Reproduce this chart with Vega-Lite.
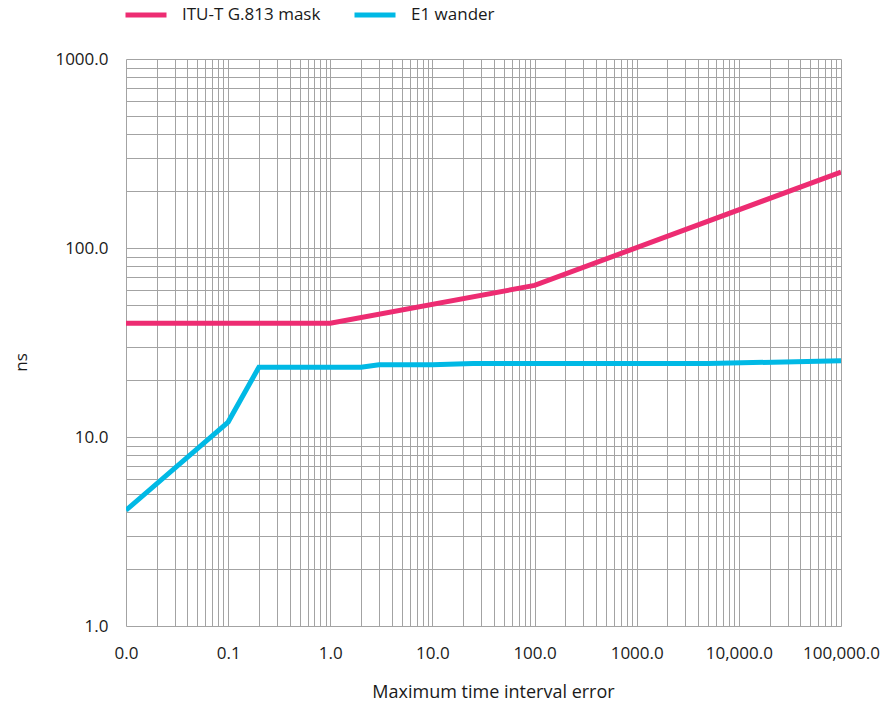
{
  "$schema": "https://vega.github.io/schema/vega-lite/v6.json",
  "width": 715,
  "height": 567,
  "autosize": {"type": "none"},
  "padding": {"left": 126, "top": 59, "right": 50, "bottom": 80},
  "config": {
    "font": "Open Sans",
    "view": {"stroke": null},
    "axis": {"labelColor": "#1a1a1a", "titleColor": "#1a1a1a"}
  },
  "data": {
    "values": [
      {"series": "ITU-T G.813 mask", "tau": 0.01, "ns": 40},
      {"series": "ITU-T G.813 mask", "tau": 1, "ns": 40},
      {"series": "ITU-T G.813 mask", "tau": 100, "ns": 63.4},
      {"series": "ITU-T G.813 mask", "tau": 100000, "ns": 252.5},
      {"series": "E1 wander", "tau": 0.01, "ns": 4.1},
      {"series": "E1 wander", "tau": 0.1, "ns": 12.0},
      {"series": "E1 wander", "tau": 0.2, "ns": 23.4},
      {"series": "E1 wander", "tau": 2, "ns": 23.4},
      {"series": "E1 wander", "tau": 3, "ns": 24.1},
      {"series": "E1 wander", "tau": 10, "ns": 24.1},
      {"series": "E1 wander", "tau": 25, "ns": 24.5},
      {"series": "E1 wander", "tau": 5000, "ns": 24.5},
      {"series": "E1 wander", "tau": 100000, "ns": 25.3}
    ]
  },
  "mark": {"type": "line", "strokeWidth": 5, "clip": true},
  "encoding": {
    "x": {
      "field": "tau",
      "type": "quantitative",
      "scale": {"type": "log", "domain": [0.01, 100000], "nice": false},
      "axis": {
        "title": "Maximum time interval error",
        "titleFontSize": 18,
        "titleFontWeight": "normal",
        "titleX": 367,
        "titleY": 66,
        "titleBaseline": "middle",
        "values": [0.01, 0.02, 0.03, 0.04, 0.05, 0.06, 0.07, 0.08, 0.09,
                   0.1, 0.2, 0.3, 0.4, 0.5, 0.6, 0.7, 0.8, 0.9,
                   1, 2, 3, 4, 5, 6, 7, 8, 9,
                   10, 20, 30, 40, 50, 60, 70, 80, 90,
                   100, 200, 300, 400, 500, 600, 700, 800, 900,
                   1000, 2000, 3000, 4000, 5000, 6000, 7000, 8000, 9000,
                   10000, 20000, 30000, 40000, 50000, 60000, 70000, 80000, 90000,
                   100000],
        "labelExpr": "datum.value == 0.01 ? '0.0' : datum.value == 0.1 ? '0.1' : datum.value == 1 ? '1.0' : datum.value == 10 ? '10.0' : datum.value == 100 ? '100.0' : datum.value == 1000 ? '1000.0' : datum.value == 10000 ? '10,000.0' : datum.value == 100000 ? '100,000.0' : ''",
        "labelFontSize": 17,
        "labelPadding": 19,
        "labelOverlap": false,
        "labelFlush": false,
        "ticks": false,
        "domain": false,
        "grid": true,
        "gridColor": "#a3a3a3",
        "gridWidth": 1
      }
    },
    "y": {
      "field": "ns",
      "type": "quantitative",
      "scale": {"type": "log", "domain": [1, 1000], "nice": false},
      "axis": {
        "title": "ns",
        "titleFontSize": 17,
        "titleFontWeight": "normal",
        "titleX": -105,
        "titleY": 303,
        "titleAlign": "center",
        "titleBaseline": "middle",
        "values": [1, 2, 3, 4, 5, 6, 7, 8, 9,
                   10, 20, 30, 40, 50, 60, 70, 80, 90,
                   100, 200, 300, 400, 500, 600, 700, 800, 900,
                   1000],
        "labelExpr": "datum.value == 1 ? '1.0' : datum.value == 10 ? '10.0' : datum.value == 100 ? '100.0' : datum.value == 1000 ? '1000.0' : ''",
        "labelFontSize": 17,
        "labelPadding": 18,
        "labelOverlap": false,
        "labelFlush": false,
        "ticks": false,
        "domain": false,
        "grid": true,
        "gridColor": "#a3a3a3",
        "gridWidth": 1
      }
    },
    "color": {
      "field": "series",
      "type": "nominal",
      "scale": {
        "domain": ["ITU-T G.813 mask", "E1 wander"],
        "range": ["#ED2C72", "#00B9E5"]
      },
      "legend": {
        "title": null,
        "orient": "none",
        "legendX": -3,
        "legendY": -67,
        "direction": "horizontal",
        "symbolType": "stroke",
        "symbolSize": 1681,
        "symbolStrokeWidth": 5,
        "labelFontSize": 17,
        "labelColor": "#1a1a1a",
        "labelOffset": 13,
        "labelLimit": 300,
        "columnPadding": 23
      }
    }
  }
}
